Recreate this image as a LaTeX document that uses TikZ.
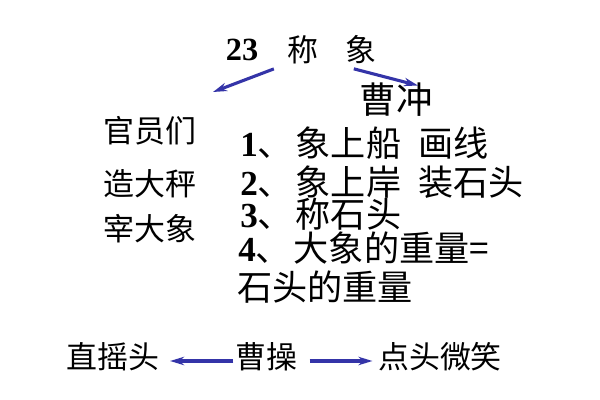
\documentclass[tikz,border=0pt]{standalone}
\usepackage{fontspec}
\setmainfont{Liberation Serif}
\newfontfamily\cjk{Noto Sans CJK SC}
\usetikzlibrary{arrows.meta}
\definecolor{arrowblue}{RGB}{52,52,168}
\newcommand{\stepno}[1]{{\rmfamily\bfseries #1}、\hspace{2pt}}

\begin{document}
\begin{tikzpicture}[x=0.025cm, y=-0.025cm,
    word/.style={font=\cjk\fontsize{22}{24}\selectfont, inner sep=1pt},
    line/.style={font=\cjk\fontsize{25}{27}\selectfont, inner sep=0pt, anchor=west},
    link/.style={draw=arrowblue, line width=2.2pt, -{Stealth[length=10pt, width=6pt]}}]
    \useasboundingbox (0,0) rectangle (600,400);

    % title
    \node[font=\rmfamily\bfseries\fontsize{23}{24}\selectfont, inner sep=1pt] (num) at (242,50) {23};
    \node[word] (cheng) at (303,50) {称};
    \node[word] (xiang) at (361,50) {象};
    \coordinate (down) at (213,92);
    \node[word, font=\cjk\fontsize{26}{28}\selectfont] (caochong) at (396,100) {曹冲};

    % left column
    \node[word] (guanyuan) at (150,131) {官员们};
    \node[word] (zaocheng) at (150,184) {造大秤};
    \node[word] (zaixiang) at (150,229) {宰大象};

    % steps
    \node[line] (s1) at (240,143) {\stepno{1}象上船\hspace{12pt}画线};
    \node[line] (s2) at (240,182) {\stepno{2}象上岸\hspace{12pt}装石头};
    \node[line] (s3) at (240,214) {\stepno{3}称石头};
    \node[line] (s4) at (238,248) {\stepno{4}大象的重量=};
    \node[line] (s5) at (237,287) {石头的重量};

    % bottom row
    \node[word] (yaotou) at (113,357) {直摇头};
    \node[word] (caocao) at (266,357) {曹操};
    \node[word] (weixiao) at (440,357) {点头微笑};

    \draw[link] ([shift={(-12,3)}]cheng.south west) -- (down);
    \draw[link] ([shift={(10,3)}]xiang.south west) -- ([shift={(22,4)}]caochong.north);
    \draw[link] ([shift={(0,4)}]caocao.west) -- ([shift={(9,4)}]yaotou.east);
    \draw[link] ([shift={(11,4)}]caocao.east) -- ([shift={(-4,4)}]weixiao.west);
\end{tikzpicture}
\end{document}
